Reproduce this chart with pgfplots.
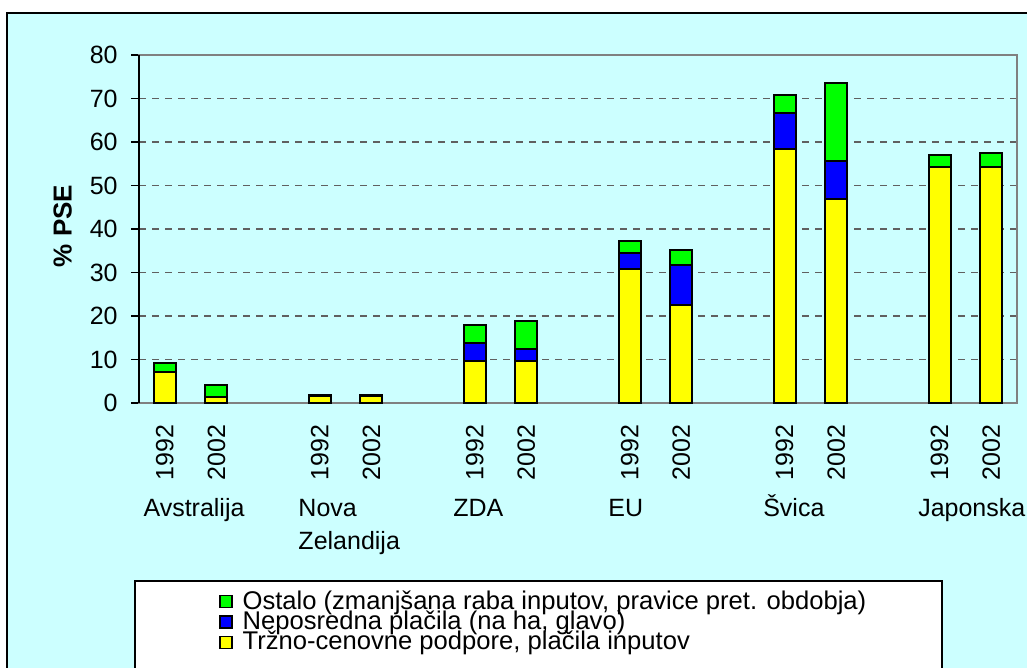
\documentclass[border=0pt]{standalone}
\usepackage{fontspec}
\setmainfont{Liberation Sans}
\usepackage{pgfplots}
\pgfplotsset{compat=1.18}
\definecolor{bgc}{HTML}{CCFFFF}
\definecolor{gridc}{HTML}{606060}
\definecolor{framec}{HTML}{808080}
\definecolor{cyel}{HTML}{FFFF00}
\definecolor{cblu}{HTML}{0000FF}
\definecolor{cgrn}{HTML}{00FF00}
\newcommand{\lblfont}{\fontsize{12.5}{15}\selectfont}
\newcommand{\legtxt}[1]{\raisebox{0pt}[7.6pt][2.4pt]{#1}}
\begin{document}
\begin{tikzpicture}
\path[use as bounding box] (0pt,0pt) rectangle (513.5pt,-334pt);
\clip (0pt,0pt) rectangle (513.5pt,-334pt);
\draw[black, line width=0.8pt, fill=bgc] (3.5pt,-6.5pt) rectangle (530pt,-350pt);
\draw[black, line width=0.6pt, fill=white] (67.5pt,-290.5pt) rectangle (471pt,-350pt);
\begin{axis}[
  at={(69.5pt,-201.5pt)}, anchor=south west,
  scale only axis, width=439pt, height=174pt,
  ybar stacked, bar width=11pt,
  xmin=-0.5, xmax=16.5, ymin=0, ymax=80,
  xtick={0,1,3,4,6,7,9,10,12,13,15,16},
  xticklabels={1992,2002,1992,2002,1992,2002,1992,2002,1992,2002,1992,2002},
  xtick style={draw=none},
  ytick={0,10,...,80},
  ytick pos=left,
  ymajorgrids,
  grid style={gridc, dash pattern=on 3.5pt off 3pt, line width=0.6pt},
  axis line style={framec, line width=0.8pt},
  ytick style={black, line width=0.6pt},
  tick align=outside, major tick length=4pt,
  /pgf/number format/assume math mode=true,
  ticklabel style={font=\lblfont},
  yticklabel style={anchor=east, inner sep=0pt, xshift=-6.5pt},
  xticklabel style={yshift=-6.5pt, rotate=90, anchor=east, inner sep=0pt},
  ylabel={\% PSE},
  every axis y label/.style={at={(axis description cs:-0.087,0.509)}, rotate=90, anchor=center, font=\fontsize{13}{15}\selectfont\bfseries},
  clip=false,
  reverse legend,
  legend cell align=left,
  legend image code/.code={\draw[#1, line width=0.6pt] (0pt,-2.3pt) rectangle (6pt,3.7pt);},
  legend style={at={(0.0911,-0.548)}, anchor=north west, draw=none, fill=none,
    font=\fontsize{12.8}{10}\selectfont, inner sep=0pt, row sep=1pt, column sep=5pt,
    nodes={inner sep=0pt}},
  every axis plot/.append style={draw=black, line width=1pt},
]
\addplot[fill=cyel] coordinates {(0,7.2) (1,1.4) (3,1.5) (4,1.5) (6,9.7) (7,9.7) (9,30.8) (10,22.6) (12,58.3) (13,46.9) (15,54.2) (16,54.2)};
\addlegendentry{\legtxt{Tržno-cenovne podpore, plačila inputov}}
\addplot[fill=cblu] coordinates {(0,0) (1,0) (3,0) (4,0) (6,4.2) (7,2.8) (9,3.7) (10,9.2) (12,8.3) (13,8.7) (15,0) (16,0)};
\addlegendentry{\legtxt{Neposredna plačila (na ha, glavo)}}
\addplot[fill=cgrn] coordinates {(0,2.1) (1,2.8) (3,0.4) (4,0.4) (6,4.1) (7,6.4) (9,2.8) (10,3.3) (12,4.2) (13,18.0) (15,2.8) (16,3.2)};
\addlegendentry{\legtxt{Ostalo (zmanjšana raba inputov, pravice pret. obdobja)}}
\draw[black, line width=0.8pt] (rel axis cs:0,0) -- (rel axis cs:0,1);
\node[anchor=base west, inner sep=0pt, font=\lblfont, yshift=-56.5pt] at (axis cs:-0.42,0) {Avstralija};
\node[anchor=base west, inner sep=0pt, font=\lblfont, yshift=-56.5pt] at (axis cs:2.58,0) {Nova};
\node[anchor=base west, inner sep=0pt, font=\lblfont, yshift=-73pt] at (axis cs:2.58,0) {Zelandija};
\node[anchor=base west, inner sep=0pt, font=\lblfont, yshift=-56.5pt] at (axis cs:5.58,0) {ZDA};
\node[anchor=base west, inner sep=0pt, font=\lblfont, yshift=-56.5pt] at (axis cs:8.58,0) {EU};
\node[anchor=base west, inner sep=0pt, font=\lblfont, yshift=-56.5pt] at (axis cs:11.58,0) {Švica};
\node[anchor=base west, inner sep=0pt, font=\lblfont, yshift=-56.5pt] at (axis cs:14.58,0) {Japonska};
\end{axis}
\end{tikzpicture}
\end{document}
